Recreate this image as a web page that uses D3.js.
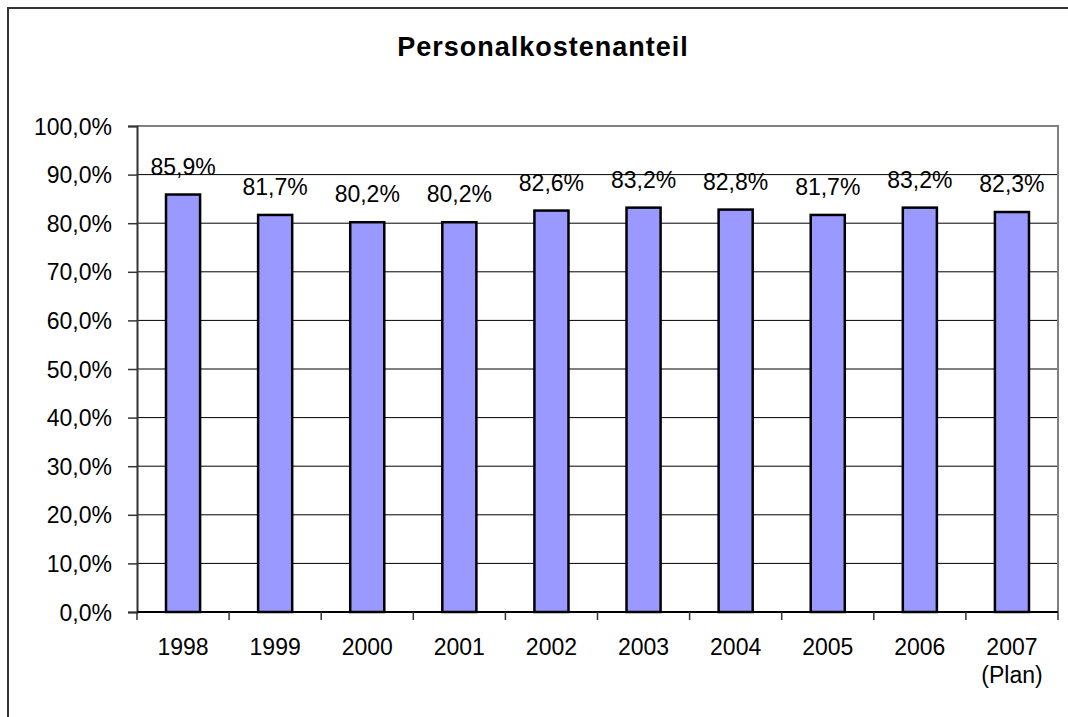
<!DOCTYPE html>
<html>
<head>
<meta charset="utf-8">
<script src="https://cdn.jsdelivr.net/npm/d3@7"></script>
<style>
  body { margin: 0; background: #fff; }
  text { font-family: Arial, "Liberation Sans", sans-serif; }
</style>
</head>
<body>
<script>
var years = ["1998", "1999", "2000", "2001", "2002", "2003", "2004", "2005", "2006", "2007"];
var subLabels = ["", "", "", "", "", "", "", "", "", "(Plan)"];
var shares = [85.9, 81.7, 80.2, 80.2, 82.6, 83.2, 82.8, 81.7, 83.2, 82.3];
var yTicks = [0, 10, 20, 30, 40, 50, 60, 70, 80, 90, 100];
var title = "Personalkostenanteil";

var width = 1068, height = 717;
var pLeft = 137, pRight = 1058, pTop = 126, pBottom = 612;
var fs = 23;

var fmt = function (v) { return d3.format(".1f")(v).replace(".", ",") + "%"; };

var svg = d3.select("body").append("svg").attr("width", width).attr("height", height);

// outer frame
svg.append("rect").attr("x", 8).attr("y", 8).attr("width", 1100).attr("height", 760)
  .attr("fill", "none").attr("stroke", "#333").attr("stroke-width", 2);

svg.append("text").attr("x", 543).attr("y", 56).attr("text-anchor", "middle")
  .attr("font-size", 27).attr("font-weight", "bold").attr("letter-spacing", 1)
  .text(title);

var x = d3.scaleBand().domain(years).range([pLeft, pRight]).paddingInner(0.63).paddingOuter(0.315);
var y = d3.scaleLinear().domain([0, 100]).range([pBottom, pTop]);

// gridlines
svg.append("g").selectAll("line").data(yTicks.slice(1, -1)).join("line")
  .attr("x1", pLeft).attr("x2", pRight)
  .attr("y1", function (d) { return y(d); }).attr("y2", function (d) { return y(d); })
  .attr("stroke", "#000").attr("stroke-width", 1);

// plot border top/right
svg.append("path").attr("d", "M" + pLeft + "," + pTop + "H" + pRight + "V" + pBottom)
  .attr("fill", "none").attr("stroke", "#808080").attr("stroke-width", 2);

// y axis
var yAxis = svg.append("g").attr("transform", "translate(" + pLeft + ",0)")
  .call(d3.axisLeft(y).tickValues(yTicks).tickSize(9).tickPadding(16).tickFormat(fmt));
yAxis.select(".domain").attr("stroke", "#333").attr("stroke-width", 2);
yAxis.selectAll(".tick line").attr("stroke", "#333").attr("stroke-width", 1.5);
yAxis.selectAll(".tick text").attr("font-size", fs).attr("fill", "#000")
  .attr("font-family", "Arial, 'Liberation Sans', sans-serif").attr("dy", "0.35em");

// bars
svg.append("g").selectAll("rect").data(shares).join("rect")
  .attr("x", function (d, i) { return x(years[i]); })
  .attr("width", x.bandwidth())
  .attr("y", function (d) { return y(d); })
  .attr("height", function (d) { return y(0) - y(d); })
  .attr("fill", "#9999FF").attr("stroke", "#000").attr("stroke-width", 2.5);

// value labels
svg.append("g").selectAll("text").data(shares).join("text")
  .attr("x", function (d, i) { return x(years[i]) + x.bandwidth() / 2; })
  .attr("y", function (d) { return y(d) - 20; })
  .attr("text-anchor", "middle").attr("font-size", fs)
  .text(fmt);

// x axis baseline and ticks at category boundaries
svg.append("line").attr("x1", pLeft).attr("x2", pRight).attr("y1", pBottom).attr("y2", pBottom)
  .attr("stroke", "#000").attr("stroke-width", 2);
svg.append("g").selectAll("line").data(d3.range(years.length + 1)).join("line")
  .attr("x1", function (i) { return pLeft + i * x.step(); })
  .attr("x2", function (i) { return pLeft + i * x.step(); })
  .attr("y1", pBottom).attr("y2", pBottom + 8)
  .attr("stroke", "#333").attr("stroke-width", 1.5);

var xl = svg.append("g").selectAll("text").data(years).join("text")
  .attr("x", function (d) { return x(d) + x.bandwidth() / 2; })
  .attr("y", 655).attr("text-anchor", "middle").attr("font-size", fs);
xl.append("tspan").text(function (d) { return d; });
xl.append("tspan").attr("x", function (d) { return x(d) + x.bandwidth() / 2; }).attr("dy", 28)
  .text(function (d, i) { return subLabels[i]; });
</script>
</body>
</html>
